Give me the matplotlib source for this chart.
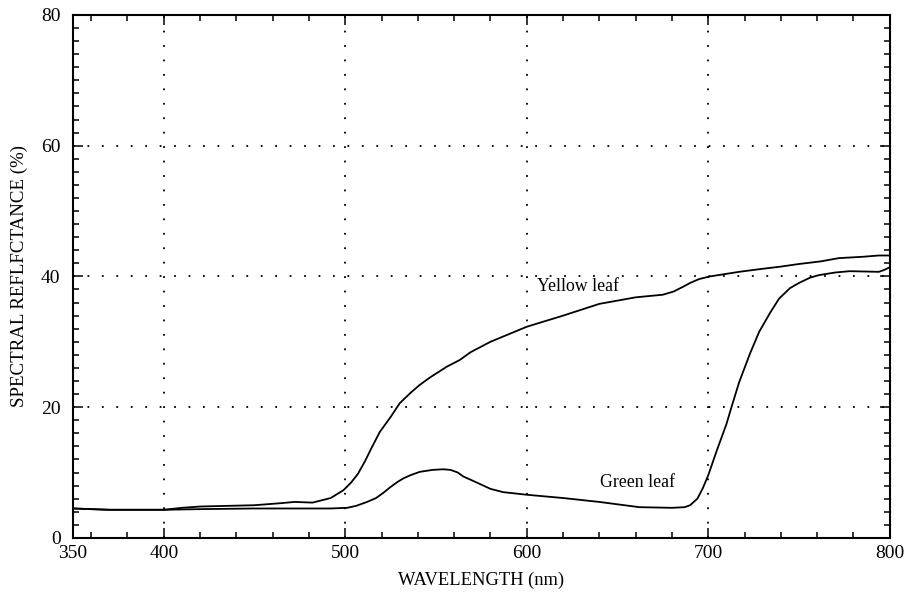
import matplotlib
matplotlib.use("Agg")
import matplotlib.pyplot as plt
from matplotlib.ticker import MultipleLocator, FixedLocator

# Reflectance spectra of a yellow and a green leaf
wl_yellow = [350, 370, 400, 410, 420, 450, 464, 472, 482, 492, 499, 503, 507, 511,
             514, 519, 525, 530, 536, 541, 547, 556, 563, 569, 580, 600, 620, 640,
             660, 675, 681, 686, 690, 695, 701, 717, 728, 740, 750, 762, 772, 785,
             794, 800]
yellow = [4.5, 4.3, 4.3, 4.6, 4.8, 5.0, 5.3, 5.5, 5.4, 6.1, 7.3, 8.4, 9.8, 11.8,
          13.5, 16.2, 18.5, 20.6, 22.2, 23.4, 24.6, 26.2, 27.2, 28.4, 30.0, 32.3,
          34.0, 35.8, 36.8, 37.2, 37.7, 38.4, 39.0, 39.6, 40.0, 40.7, 41.1, 41.5,
          41.9, 42.3, 42.8, 43.0, 43.2, 43.2]

wl_green = [350, 370, 400, 420, 450, 480, 492, 501, 506, 512, 517, 521, 525, 529,
            532, 536, 541, 548, 554, 558, 562, 565, 569, 573, 580, 587, 600, 620,
            640, 662, 680, 687, 690, 694, 697, 700, 705, 710, 713, 717, 723, 728,
            734, 739, 745, 750, 756, 761, 770, 778, 794, 797, 800]
green = [4.5, 4.3, 4.3, 4.4, 4.5, 4.5, 4.5, 4.6, 4.9, 5.5, 6.1, 6.9, 7.8, 8.6,
         9.1, 9.6, 10.1, 10.4, 10.5, 10.4, 10.0, 9.4, 8.9, 8.4, 7.5, 7.0, 6.6,
         6.1, 5.5, 4.7, 4.6, 4.7, 5.0, 6.0, 7.6, 9.6, 13.6, 17.4, 20.2, 23.8,
         28.2, 31.5, 34.4, 36.6, 38.2, 39.0, 39.8, 40.2, 40.6, 40.8, 40.7, 41.0,
         41.4]

x_major = [350, 400, 500, 600, 700, 800]
x_grid = [400, 500, 600, 700]
y_major = [0, 20, 40, 60, 80]
y_grid = [20, 40, 60]

serif = ["Liberation Serif", "DejaVu Serif"]

fig = plt.figure(figsize=(9.07, 5.97), dpi=100)
ax = fig.add_axes([0.0805, 0.099, 0.9005, 0.876])

ax.plot(wl_yellow, yellow, color="black", lw=1.3)
ax.plot(wl_green, green, color="black", lw=1.3)

for gx in x_grid:
    ax.axvline(gx, color="black", lw=1.3, linestyle=(0, (1, 7)), zorder=0)
for gy in y_grid:
    ax.axhline(gy, color="black", lw=1.3, linestyle=(0, (1, 7)), zorder=0)

ax.set_xlim(350, 800)
ax.set_ylim(0, 80)
ax.xaxis.set_major_locator(FixedLocator(x_major))
ax.xaxis.set_minor_locator(FixedLocator(list(range(360, 800, 20))))
ax.yaxis.set_major_locator(FixedLocator(y_major))
ax.yaxis.set_minor_locator(MultipleLocator(2))
ax.tick_params(which="both", direction="in", top=True, right=True, width=1.1)
ax.tick_params(which="major", length=7, labelsize=14)
ax.tick_params(axis="x", which="major", pad=5)
ax.tick_params(axis="y", which="major", pad=9)
ax.tick_params(which="minor", length=4)
for lab in ax.get_xticklabels() + ax.get_yticklabels():
    lab.set_family(serif)
ax.tick_params(axis="y", which="both", labelright=False)
ax.tick_params(axis="x", which="both", labeltop=False)

for sp in ax.spines.values():
    sp.set_linewidth(1.5)

ax.set_xlabel("WAVELENGTH (nm)", family=serif, fontsize=13.3, labelpad=7)
ax.set_ylabel("SPECTRAL REFLFCTANCE (%)", family=serif, fontsize=13.6, labelpad=9)

ax.text(605.5, 38.5, "Yellow leaf", family=serif, fontsize=12.8, va="center", ha="left")
ax.text(640.5, 8.4, "Green leaf", family=serif, fontsize=12.8, va="center", ha="left")

fig.savefig("out.png", dpi=100)
